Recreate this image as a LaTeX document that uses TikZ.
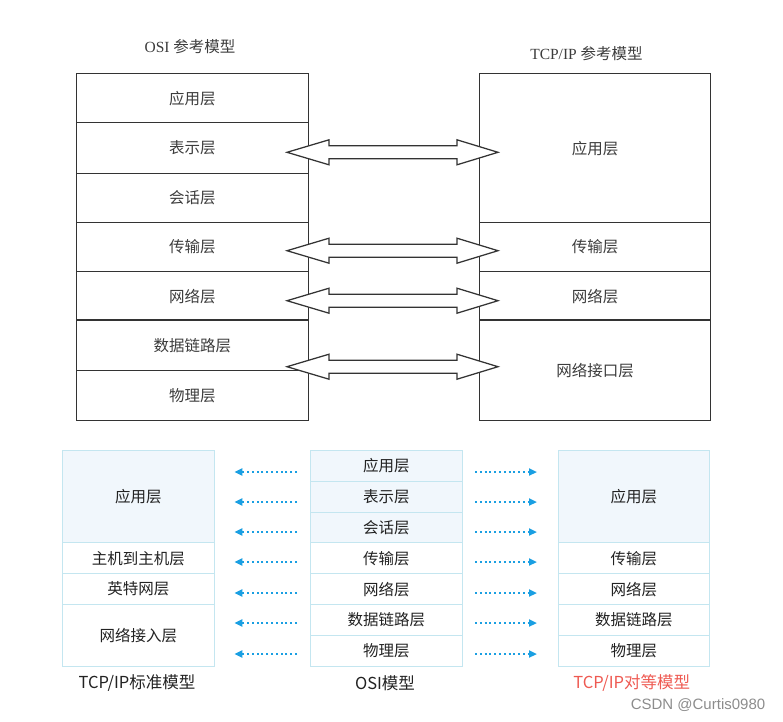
\documentclass[tikz,border=0pt]{standalone}
\usepackage{fontspec}
\setmainfont{Liberation Serif}
\newfontfamily\cjk{Noto Sans CJK SC}
\newfontfamily\wmfont{Liberation Sans}
\usetikzlibrary{arrows.meta,calc}
\definecolor{topline}{HTML}{333333}
\definecolor{toptext}{HTML}{3C3C3C}
\definecolor{cyanline}{HTML}{C4E6F0}
\definecolor{cyanfill}{HTML}{F1F7FC}
\definecolor{dotblue}{HTML}{1A9FE2}
\definecolor{redtitle}{HTML}{EE5A52}
\definecolor{btext}{HTML}{222222}
\newcommand\hollowdbl[1]{%
  \draw[hollowarrow] (287,#1) -- (329,#1-12.5) -- (329,#1-6.5) -- (457,#1-6.5)
    -- (457,#1-12.5) -- (498,#1) -- (457,#1+12.5) -- (457,#1+6.5)
    -- (329,#1+6.5) -- (329,#1+12.5) -- cycle;}
\begin{document}
\begin{tikzpicture}[x=1pt,y=-1pt,
  toplayer/.style={draw=topline, line width=1.25pt, inner sep=0pt, anchor=north west,
    text=toptext, font=\cjk\fontsize{15.5}{15.5}\selectfont},
  hollowarrow/.style={draw=topline, line width=1.25pt, fill=white, line join=miter},
  blayer/.style={draw=cyanline, line width=1pt, inner sep=0pt, anchor=north west,
    minimum width=151.5pt, text=btext, font=\cjk\fontsize{15.5}{15.5}\selectfont},
  bfill/.style={fill=cyanfill},
  dotarrow/.style={draw=dotblue, line width=2pt, dash pattern=on 2pt off 2.8pt,
    -{Triangle[length=8pt,width=7pt]}},
  btitle/.style={font=\cjk\fontsize{16.5}{16.5}\selectfont, text=btext, inner sep=0pt},
  toptitle/.style={font=\fontsize{15.5}{15.5}\selectfont, text=toptext, inner sep=0pt}
]
\useasboundingbox (0,0) rectangle (783,721);

% ---------- top: titles ----------
\node[toptitle] (tosi) at (190,47) {OSI {\cjk 参考模型}};
\node[toptitle] (ttcp) at (586.5,54) {TCP/IP {\cjk 参考模型}};

% ---------- top: OSI model ----------
\node[toplayer, minimum width=231.5pt, minimum height=49pt] (o1) at (76,73)  {应用层};
\node[toplayer, minimum width=231.5pt, minimum height=51pt] (o2) at (76,122) {表示层};
\node[toplayer, minimum width=231.5pt, minimum height=49pt] (o3) at (76,173) {会话层};
\node[toplayer, minimum width=231.5pt, minimum height=49pt] (o4) at (76,222) {传输层};
\node[toplayer, minimum width=231.5pt, minimum height=49pt] (o5) at (76,271) {网络层};
\node[toplayer, minimum width=231.5pt, minimum height=50pt] (o6) at (76,320) {数据链路层};
\node[toplayer, minimum width=231.5pt, minimum height=50pt] (o7) at (76,370) {物理层};

% ---------- top: TCP/IP model ----------
\node[toplayer, minimum width=231pt, minimum height=149pt] (t1) at (479,73)  {应用层};
\node[toplayer, minimum width=231pt, minimum height=49pt]  (t2) at (479,222) {传输层};
\node[toplayer, minimum width=231pt, minimum height=49pt]  (t3) at (479,271) {网络层};
\node[toplayer, minimum width=231pt, minimum height=100pt] (t4) at (479,320) {网络接口层};

\draw[topline, line width=2.6pt] (o6.north west) -- (o6.north east);
\draw[topline, line width=2.6pt] (t4.north west) -- (t4.north east);

% ---------- top: hollow double arrows ----------
\hollowdbl{152.3}
\hollowdbl{250.7}
\hollowdbl{300.7}
\hollowdbl{366.7}

% ---------- bottom: TCP/IP standard model ----------
\node[blayer, bfill, minimum height=92.4pt] (s1) at (62,450)   {应用层};
\node[blayer, minimum height=30.8pt] (s2) at (62,542.4) {主机到主机层};
\node[blayer, minimum height=30.8pt] (s3) at (62,573.2) {英特网层};
\node[blayer, minimum height=61.7pt] (s4) at (62,604)   {网络接入层};

% ---------- bottom: OSI model ----------
\node[blayer, bfill, minimum height=30.8pt] (m1) at (310,450)   {应用层};
\node[blayer, bfill, minimum height=30.8pt] (m2) at (310,480.8) {表示层};
\node[blayer, bfill, minimum height=30.8pt] (m3) at (310,511.6) {会话层};
\node[blayer, minimum height=30.8pt] (m4) at (310,542.4) {传输层};
\node[blayer, minimum height=30.8pt] (m5) at (310,573.2) {网络层};
\node[blayer, minimum height=30.9pt] (m6) at (310,604)   {数据链路层};
\node[blayer, minimum height=30.8pt] (m7) at (310,634.9) {物理层};

% ---------- bottom: TCP/IP peer model ----------
\node[blayer, bfill, minimum height=92.4pt] (p1) at (557.5,450)   {应用层};
\node[blayer, minimum height=30.8pt] (p2) at (557.5,542.4) {传输层};
\node[blayer, minimum height=30.8pt] (p3) at (557.5,573.2) {网络层};
\node[blayer, minimum height=30.9pt] (p4) at (557.5,604)   {数据链路层};
\node[blayer, minimum height=30.8pt] (p5) at (557.5,634.9) {物理层};

% ---------- bottom: dotted arrows ----------
\foreach \yy in {472,502,532,562,593,623,654}{
  \draw[dotarrow] (297,\yy) -- (234.3,\yy);
  \draw[dotarrow] (475,\yy) -- (537,\yy);
}

% ---------- bottom: titles ----------
\node[btitle] (ls) at (137,683.5) {TCP/IP标准模型};
\node[btitle] (lo) at (385,683.5) {OSI模型};
\node[btitle, text=redtitle] (lp) at (631.7,683) {TCP/IP对等模型};

\node[font=\wmfont\fontsize{15}{15}\selectfont, text=black!45, inner sep=0pt] (wm) at (698,705.5) {CSDN @Curtis0980};
\end{tikzpicture}
\end{document}
